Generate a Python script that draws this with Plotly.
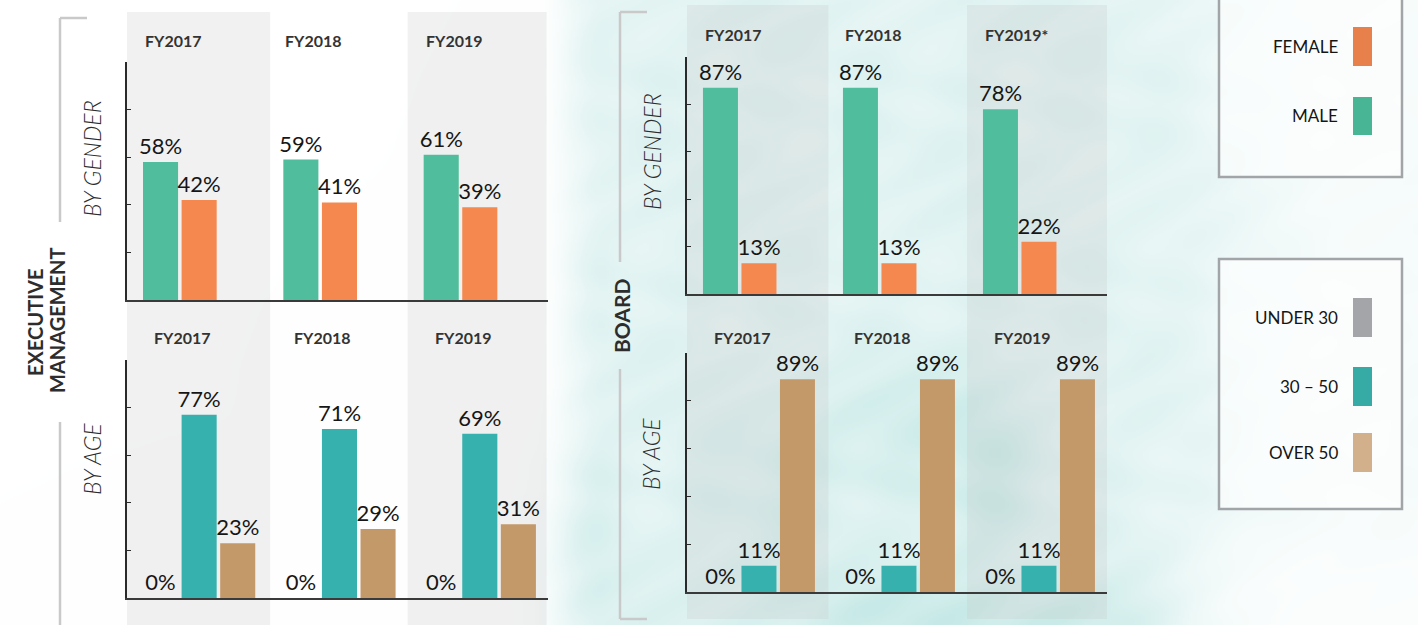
import base64
import struct
import zlib

import numpy as np
import plotly.graph_objects as go

# ---------------------------------------------------------------- data
years_exec = ["FY2017", "FY2018", "FY2019"]
years_board = ["FY2017", "FY2018", "FY2019*"]
years_board_age = ["FY2017", "FY2018", "FY2019"]

gender_cats = ["MALE", "FEMALE"]
age_cats = ["UNDER 30", "30 – 50", "OVER 50"]

exec_male = [58, 59, 61]
exec_female = [42, 41, 39]
exec_under30 = [0, 0, 0]
exec_30_50 = [77, 71, 69]
exec_over50 = [23, 29, 31]

board_male = [87, 87, 78]
board_female = [13, 13, 22]
board_under30 = [0, 0, 0]
board_30_50 = [11, 11, 11]
board_over50 = [89, 89, 89]

# ---------------------------------------------------------------- style
W, H = 1418, 625
C_MALE = "#50be9c"
C_FEMALE = "#f4884f"
C_U30 = "#a3a5a8"
C_MID = "#36b1ad"
C_O50 = "#c4996a"
LEG_COLORS = {"FEMALE": "#e8804c", "MALE": "#48b594",
              "UNDER 30": "#a3a5a8", "30 – 50": "#36aba6", "OVER 50": "#d2b08c"}
FONT = "Lato"
BAR_W = 0.25
SLOTS = [0.114, 0.389, 0.664]


def px(x):
    return x / W


def py(y):
    return 1 - y / H


# ---------------------------------------------------------------- watercolour wash
def png_uri(rgb):
    h, w, _ = rgb.shape
    raw = b"".join(b"\x00" + rgb[i].tobytes() for i in range(h))

    def chunk(tag, data):
        c = struct.pack(">I", len(data)) + tag + data
        return c + struct.pack(">I", zlib.crc32(tag + data) & 0xFFFFFFFF)

    png = (b"\x89PNG\r\n\x1a\n"
           + chunk(b"IHDR", struct.pack(">IIBBBBB", w, h, 8, 2, 0, 0, 0))
           + chunk(b"IDAT", zlib.compress(raw, 9))
           + chunk(b"IEND", b""))
    return "data:image/png;base64," + base64.b64encode(png).decode()


def smooth(t):
    t = np.clip(t, 0, 1)
    return t * t * (3 - 2 * t)


sc = 2
gx, gy = np.meshgrid(np.arange(0, W, sc, dtype=float), np.arange(0, H, sc, dtype=float))
wash = 0.26 * smooth((gx - 535) / 70) * (1 - 0.7 * smooth((gx - 1110) / 230))
wash *= 1 - 0.6 * smooth((gy - 470) / 140) * smooth((gx - 1110) / 150)
blobs = [(870, 430, 110, 70, 0.12), (985, 480, 50, 100, 0.16), (900, 615, 170, 45, 0.18),
         (570, 560, 40, 110, 0.1), (1060, 620, 80, 30, 0.14), (760, 520, 70, 80, 0.08)]
for cx, cy, sx, sy, a in blobs:
    wash += a * np.exp(-(((gx - cx) / sx) ** 2 + ((gy - cy) / sy) ** 2))
tex = 0.85 + 0.15 * np.sin(gx / 23 + 2 * np.sin(gy / 31)) * np.sin(gy / 17 + gx / 53)
wash = np.clip(wash * tex, 0, 1)
teal = np.array([125, 205, 200], dtype=float)
img = 255 - wash[..., None] * (255 - teal)
bg_uri = png_uri(img.astype(np.uint8))

# ---------------------------------------------------------------- figure
fig = go.Figure()

panels = [
    # x-axis id, y-axis id, x pixel span, y pixel span (top, bottom)
    ("x", "y", (127, 548), (62, 300)),
    ("x2", "y2", (127, 548), (360, 598)),
    ("x3", "y3", (687, 1107), (57, 294)),
    ("x4", "y4", (687, 1107), (353, 592)),
]

series = [
    [(exec_male, C_MALE), (exec_female, C_FEMALE)],
    [(exec_under30, C_U30), (exec_30_50, C_MID), (exec_over50, C_O50)],
    [(board_male, C_MALE), (board_female, C_FEMALE)],
    [(board_under30, C_U30), (board_30_50, C_MID), (board_over50, C_O50)],
]

layout_axes = {}
for (xa, ya, (xl, xr), (yt, yb)), group in zip(panels, series):
    for slot, (vals, col) in enumerate(group):
        fig.add_trace(go.Bar(
            x=[0, 1, 2], y=vals, offset=SLOTS[slot], width=BAR_W,
            marker=dict(color=col, line=dict(width=0)),
            texttemplate="%{y}%", textposition="outside",
            textfont=dict(family=FONT, size=22, color="#161616", weight=400),
            constraintext="none", cliponaxis=False,
            xaxis=xa, yaxis=ya, showlegend=False, hoverinfo="skip"))
    xk = "xaxis" + xa[1:]
    yk = "yaxis" + ya[1:]
    layout_axes[xk] = dict(domain=[px(xl), px(xr)], range=[0, 3], anchor=ya,
                           showgrid=False, zeroline=False, showticklabels=False,
                           showline=True, linecolor="#3a3a3a", linewidth=2, ticks="")
    layout_axes[yk] = dict(domain=[py(yb), py(yt)], range=[0, 100], anchor=xa,
                           showgrid=False, zeroline=False, showticklabels=False,
                           showline=True, linecolor="#2a2a2a", linewidth=1.5,
                           ticks="inside", ticklen=4, tickwidth=1.2, tickcolor="#2a2a2a",
                           tickvals=[20, 40, 60, 80, 100])

shapes = []
# shaded year columns
for xa, x0, x1, y0, y1 in [("x", 0.0, 1.02, 12, 625), ("x", 2.0, 2.99, 12, 625),
                           ("x3", 0.0, 1.01, 5, 619), ("x3", 2.0, 3.02, 5, 619)]:
    shapes.append(dict(type="rect", xref=xa, yref="paper", x0=x0, x1=x1,
                       y0=py(y1), y1=py(y0), fillcolor="rgba(195,195,195,0.24)",
                       line=dict(width=0), layer="below"))

# section brackets
br = dict(color="#c9c9c9", width=2.5)
for x0, y0, x1, y1 in [(60, 18, 60, 222), (60, 18, 87, 18), (60, 422, 60, 625),
                       (620, 12, 620, 262), (620, 12, 647, 12), (620, 369, 620, 619),
                       (620, 619, 647, 619)]:
    shapes.append(dict(type="line", xref="paper", yref="paper", x0=px(x0), x1=px(x1),
                       y0=py(y0), y1=py(y1), line=br))

# legend boxes
for y0, y1 in [(-4, 177), (259, 509)]:
    shapes.append(dict(type="rect", xref="paper", yref="paper", x0=px(1219), x1=px(1402),
                       y0=py(y1), y1=py(y0), fillcolor="rgba(255,255,255,0.6)",
                       line=dict(color="#a2a5a8", width=2.5)))

annotations = []
legend_rows = [("FEMALE", 27, 66), ("MALE", 97, 135),
               ("UNDER 30", 298, 337), ("30 – 50", 367, 406), ("OVER 50", 433, 472)]
for name, t, b in legend_rows:
    shapes.append(dict(type="rect", xref="paper", yref="paper", x0=px(1353), x1=px(1372),
                       y0=py(b), y1=py(t), fillcolor=LEG_COLORS[name], line=dict(width=0)))
    annotations.append(dict(text=name, xref="paper", yref="paper", x=px(1340), y=py((t + b) / 2),
                            xanchor="right", yanchor="middle", showarrow=False,
                            font=dict(family=FONT, size=17, color="#151515")))

# year headers
for xa, labels, off, ypix in [("x", years_exec, 0.114, 40), ("x2", years_exec, 0.178, 338),
                              ("x3", years_board, 0.114, 34), ("x4", years_board_age, 0.178, 337)]:
    for i, lab in enumerate(labels):
        annotations.append(dict(text="<b>%s</b>" % lab, xref=xa, yref="paper", x=i + off, y=py(ypix),
                                xanchor="left", yanchor="middle", showarrow=False,
                                font=dict(family=FONT, size=16, color="#333333")))

# rotated section titles
for text, x, y, size, style in [
        ("<b>EXECUTIVE</b>", 35, 322, 20, "normal"), ("<b>MANAGEMENT</b>", 57, 320, 20, "normal"),
        ("<b>BOARD</b>", 621, 316, 21, "normal"),
        ("BY GENDER", 92, 159, 23, "italic"), ("BY AGE", 92, 459, 23, "italic"),
        ("BY GENDER", 652, 152, 23, "italic"), ("BY AGE", 651, 454, 23, "italic")]:
    annotations.append(dict(text=text, xref="paper", yref="paper", x=px(x), y=py(y),
                            xanchor="center", yanchor="middle", textangle=-90, showarrow=False,
                            font=dict(family=FONT, size=size, color="#2d2d2d", style=style,
                                      weight=300 if style == "italic" else 700)))

fig.update_layout(
    width=W, height=H, margin=dict(l=0, r=0, t=0, b=0),
    paper_bgcolor="white", plot_bgcolor="rgba(0,0,0,0)",
    barmode="overlay", showlegend=False,
    shapes=shapes, annotations=annotations,
    images=[dict(source=bg_uri, xref="paper", yref="paper", x=0, y=1, sizex=1, sizey=1,
                 sizing="stretch", layer="below", xanchor="left", yanchor="top")],
    **layout_axes,
)

fig.write_html("out.html")
